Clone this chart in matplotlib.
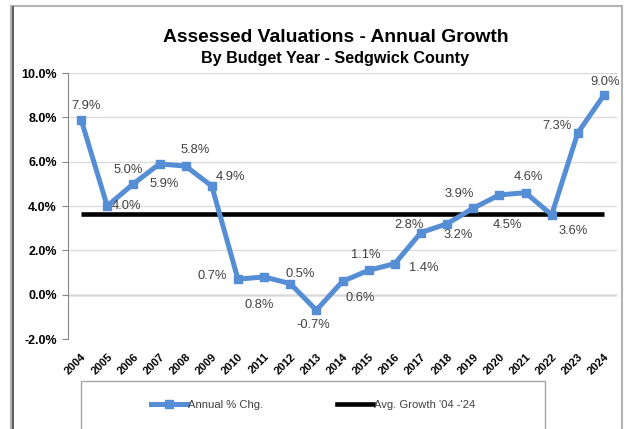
import matplotlib.pyplot as plt
from matplotlib.lines import Line2D
from matplotlib.patches import Rectangle

plt.rcParams["font.family"] = ["Liberation Sans", "DejaVu Sans"]

# data
years = [str(y) for y in range(2004, 2025)]
annual_pct = [7.9, 4.0, 5.0, 5.9, 5.8, 4.9, 0.7, 0.8, 0.5, -0.7, 0.6,
              1.1, 1.4, 2.8, 3.2, 3.9, 4.5, 4.6, 3.6, 7.3, 9.0]
avg_growth = 3.66
y_ticks = [-2, 0, 2, 4, 6, 8, 10]

# label placement (pixel offsets: right, down) - layout only
label_offsets = [(5, -14), (19, 0), (-5, -14), (5, 20), (10, -16), (19, -9),
                 (-26, -3), (-5, 28), (10, -10), (-3, 15), (18, 17), (-3, -15),
                 (29, 4), (-12, -8), (11, 11), (-14, -14), (8, 30), (3, -16),
                 (22, 16), (-21, -7), (1, -13)]

BLUE = "#558ED5"
W, H = 628, 429

fig = plt.figure(figsize=(W / 100, H / 100), dpi=100)
ax = fig.add_axes([68 / W, 1 - 339 / H, (617 - 68) / W, (339 - 73) / H])

x = list(range(len(years)))
ax.plot(x, [avg_growth] * len(x), color="black", lw=3.3, solid_capstyle="butt", zorder=3)
ax.plot(x, annual_pct, color=BLUE, lw=3.6, marker="s", markersize=5.5,
        markeredgecolor=BLUE, zorder=4)

for xi, v, (dx, dy) in zip(x, annual_pct, label_offsets):
    ax.annotate(f"{v:.1f}%", (xi, v), xytext=(dx, -dy), textcoords="offset pixels",
                ha="center", va="center", fontsize=9.3, color="#404040", zorder=5)

ax.set_xlim(-0.5, len(x) - 0.5)
ax.set_ylim(-2, 10)
ax.set_yticks(y_ticks)
ax.set_yticklabels([f"{t:.1f}%" for t in y_ticks], fontsize=9, fontweight="bold")
ax.set_xticks(x)
ax.set_xticklabels(years, rotation=45, ha="right", va="top", rotation_mode="anchor",
                   fontsize=8, fontweight="bold")
ax.tick_params(axis="x", length=0, pad=9)
ax.tick_params(axis="y", length=4, color="#868686", pad=4)
ax.grid(axis="y", color="#D9D9D9", lw=0.9, zorder=0)
ax.axhline(0, color="#868686", lw=1.0, zorder=1)
for side in ("top", "right", "bottom"):
    ax.spines[side].set_visible(False)
ax.spines["left"].set_color("#868686")

# titles
fig.text(335.5 / W, 1 - 42 / H, "Assessed Valuations - Annual Growth", ha="center",
         va="baseline", fontsize=13.9, fontweight="bold")
fig.text(335.5 / W, 1 - 63 / H, "By Budget Year - Sedgwick County", ha="center",
         va="baseline", fontsize=11.6, fontweight="bold")

# chart frame and legend box
fig.patches.append(Rectangle((11 / W, -0.05), (622 - 11) / W, 1.05 - 6 / H,
                             transform=fig.transFigure, fill=False,
                             edgecolor="#B4B4B4", lw=1.5))
fig.add_artist(Line2D([13 / W, 13 / W], [0, 1 - 7 / H], color="#404040", lw=1.2))
fig.patches.append(Rectangle((81 / W, -0.05), (545 - 81) / W, 0.05 + 1 - 381 / H,
                             transform=fig.transFigure, fill=False,
                             edgecolor="#A6A6A6", lw=1.0))

handles = [Line2D([0], [0], color=BLUE, lw=3.6, marker="s", markersize=5.5),
           Line2D([0], [0], color="black", lw=3.3)]
fig.legend(handles, ["Annual % Chg.", "Avg. Growth '04 -'24"], ncol=2,
           loc="center", bbox_to_anchor=(313 / W, 1 - 405 / H), frameon=False,
           fontsize=8.1, handlelength=3.2, handletextpad=0.1, columnspacing=6.5,
           labelcolor="#404040")

fig.savefig("out.png", dpi=100)
